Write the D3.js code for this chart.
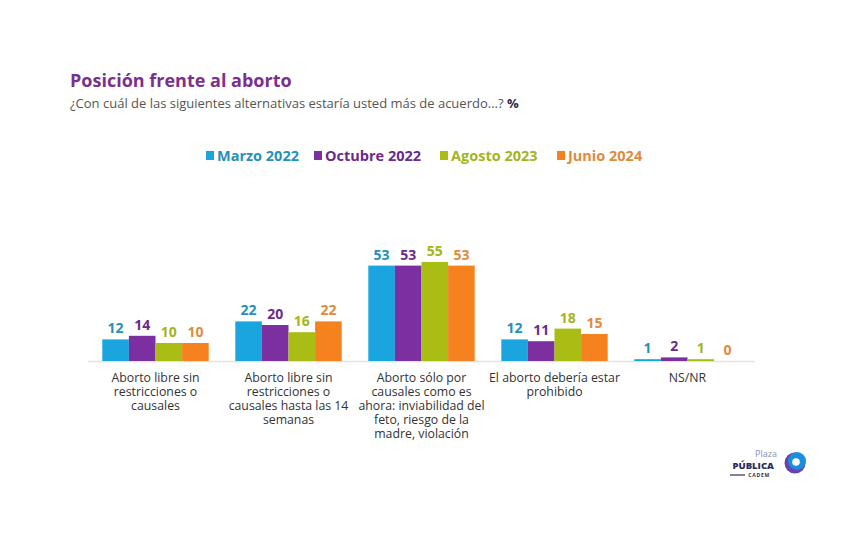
<!DOCTYPE html>
<html><head><meta charset="utf-8">
<script src="https://cdn.jsdelivr.net/npm/d3@7"></script>
<style>body{margin:0;background:#fff}svg{display:block}</style>
</head><body>
<script>
const categories = [
  ["Aborto libre sin","restricciones o","causales"],
  ["Aborto libre sin","restricciones o","causales hasta las 14","semanas"],
  ["Aborto sólo por","causales como es","ahora: inviabilidad del","feto, riesgo de la","madre, violación"],
  ["El aborto debería estar","prohibido"],
  ["NS/NR"]
];
const seriesNames = ["Marzo 2022","Octubre 2022","Agosto 2023","Junio 2024"];
const marzo2022   = [12, 22, 53, 12, 1];
const octubre2022 = [14, 20, 53, 11, 2];
const agosto2023  = [10, 16, 55, 18, 1];
const junio2024   = [10, 22, 53, 15, 0];
const seriesValues = [marzo2022, octubre2022, agosto2023, junio2024];
const barColors = ["#1ba5de","#7b2fa0","#a9bd14","#f6821f"];
const labelColors = ["#2690b8","#6b2a8c","#a3b520","#e08a3c"];

const W = 843, H = 535;
const font = "'Open Sans', 'Noto Sans', sans-serif";
const svg = d3.select("body").append("svg").attr("width", W).attr("height", H);

svg.append("text").attr("x",70).attr("y",87).text("Posición frente al aborto")
  .attr("font-family",font).attr("font-weight",700).attr("font-size",18).attr("fill","#7b2f8e");
const sub = svg.append("text").attr("x",70).attr("y",108)
  .attr("font-family",font).attr("font-size",13).attr("fill","#555");
sub.append("tspan").text("¿Con cuál de las siguientes alternativas estaría usted más de acuerdo...? ");
sub.append("tspan").text("%").attr("font-weight",700).attr("fill","#2b2b4a");

// legend
const legendX = [206, 314, 440, 557];
seriesNames.forEach((n,i)=>{
  svg.append("rect").attr("x",legendX[i]).attr("y",151).attr("width",8).attr("height",9).attr("fill",barColors[i]);
  svg.append("text").attr("x",legendX[i]+11).attr("y",161).text(n)
    .attr("font-family",font).attr("font-weight",700).attr("font-size",14.5).attr("fill",labelColors[i]);
});

const baseY = 361;
const x0 = d3.scaleBand().domain(d3.range(categories.length)).range([89, 754]).paddingInner(0.2).paddingOuter(0.1);
const x1 = d3.scaleBand().domain(d3.range(seriesNames.length)).range([0, x0.bandwidth()]);
const y = d3.scaleLinear().domain([0, 55]).range([baseY, 262]);

svg.append("line").attr("x1",88).attr("x2",755).attr("y1",baseY+0.5).attr("y2",baseY+0.5)
  .attr("stroke","#e2e2e2").attr("stroke-width",1.5);

const g = svg.append("g");
categories.forEach((c,ci)=>{
  seriesValues.forEach((vals,si)=>{
    const v = vals[ci];
    const bx = x0(ci) + x1(si);
    g.append("rect").attr("x",bx).attr("y",y(v)).attr("width",x1.bandwidth()).attr("height",baseY - y(v))
      .attr("fill",barColors[si]);
    g.append("text").attr("x",bx + x1.bandwidth()/2).attr("y",y(v)-6).attr("text-anchor","middle")
      .text(v).attr("font-family",font).attr("font-weight",700).attr("font-size",14).attr("fill",labelColors[si]);
  });
  const t = g.append("text").attr("text-anchor","middle").attr("font-family",font).attr("font-size",12.3).attr("fill","#333");
  c.forEach((line,li)=>{
    t.append("tspan").attr("x",x0(ci)+x0.bandwidth()/2).attr("y",382 + li*14).text(line);
  });
});

// logo
const logo = svg.append("g");
logo.append("text").attr("x",777).attr("y",457).attr("text-anchor","end").text("Plaza")
  .attr("font-family",font).attr("font-size",9).attr("fill","#8a8fb0");
logo.append("text").attr("x",774).attr("y",469).attr("text-anchor","end").text("PÚBLICA")
  .attr("font-family",font).attr("font-weight",800).attr("font-size",9.5).attr("fill","#2a2d5c");
logo.append("text").attr("x",770).attr("y",477).attr("text-anchor","end").text("CADEM")
  .attr("font-family",font).attr("font-weight",700).attr("font-size",5).attr("fill","#2a2d5c").attr("letter-spacing",0.8);
logo.append("line").attr("x1",730).attr("x2",745).attr("y1",475).attr("y2",475).attr("stroke","#2a2d5c").attr("stroke-width",1.2);
logo.append("circle").attr("cx",795).attr("cy",463).attr("r",10.5).attr("fill","#6a3fb0");
logo.append("circle").attr("cx",797).attr("cy",461).attr("r",9).attr("fill","#1a8fe0");
logo.append("circle").attr("cx",796).attr("cy",462).attr("r",3.8).attr("fill","#fff");
</script>
</body></html>
